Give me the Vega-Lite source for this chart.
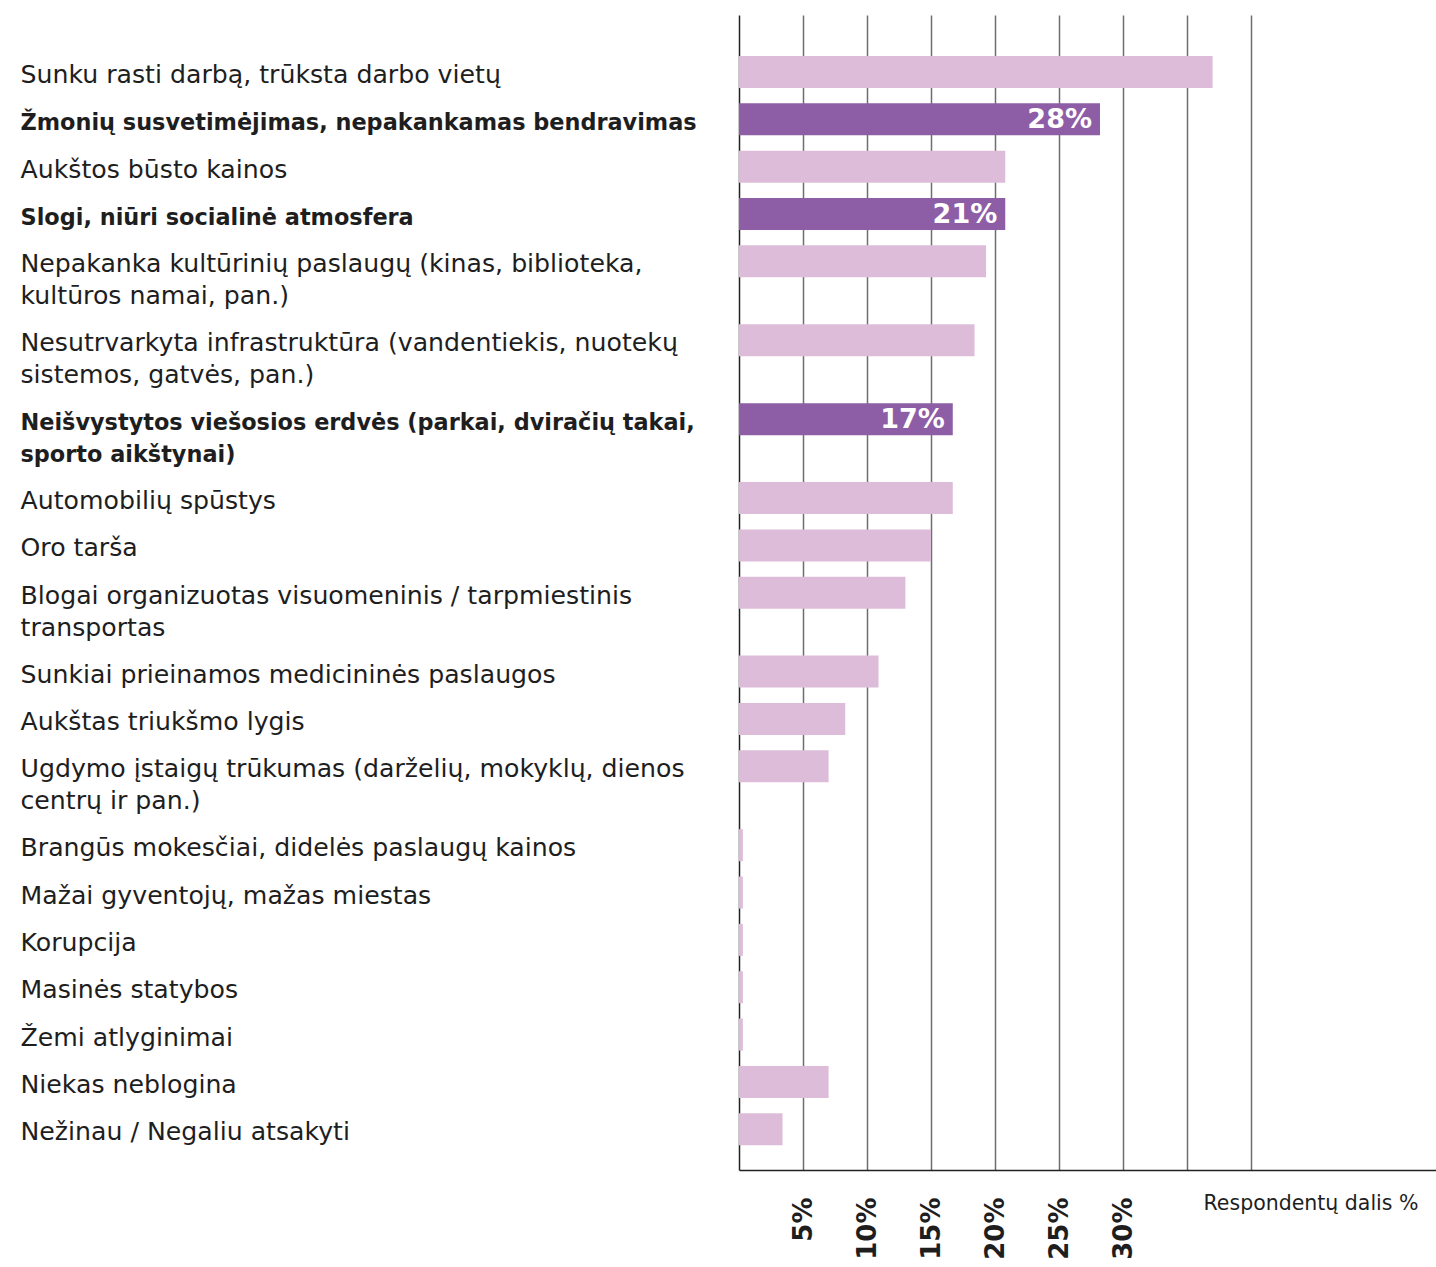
{
  "$schema": "https://vega.github.io/schema/vega-lite/v6.json",
  "autosize": "none",
  "padding": {"left": 739, "top": 15, "right": 0, "bottom": 97},
  "width": 697,
  "height": 1155,
  "background": "white",
  "config": {"view": {"stroke": null}},
  "data": {
    "values": [
      {"label": "Sunku rasti darbą, trūksta darbo vietų", "value": 37, "group": "normal"},
      {"label": "Žmonių susvetimėjimas, nepakankamas bendravimas", "value": 28.2, "group": "highlight"},
      {"label": "Aukštos būsto kainos", "value": 20.8, "group": "normal"},
      {"label": "Slogi, niūri socialinė atmosfera", "value": 20.8, "group": "highlight"},
      {"label": "Nepakanka kultūrinių paslaugų (kinas, biblioteka,\nkultūros namai, pan.)", "value": 19.3, "group": "normal"},
      {"label": "Nesutrvarkyta infrastruktūra (vandentiekis, nuotekų\nsistemos, gatvės, pan.)", "value": 18.4, "group": "normal"},
      {"label": "Neišvystytos viešosios erdvės (parkai, dviračių takai,\nsporto aikštynai)", "value": 16.7, "group": "highlight"},
      {"label": "Automobilių spūstys", "value": 16.7, "group": "normal"},
      {"label": "Oro tarša", "value": 15, "group": "normal"},
      {"label": "Blogai organizuotas visuomeninis / tarpmiestinis\ntransportas", "value": 13, "group": "normal"},
      {"label": "Sunkiai prieinamos medicininės paslaugos", "value": 10.9, "group": "normal"},
      {"label": "Aukštas triukšmo lygis", "value": 8.3, "group": "normal"},
      {"label": "Ugdymo įstaigų trūkumas (darželių, mokyklų, dienos\ncentrų ir pan.)", "value": 7, "group": "normal"},
      {"label": "Brangūs mokesčiai, didelės paslaugų kainos", "value": 0.3, "group": "normal"},
      {"label": "Mažai gyventojų, mažas miestas", "value": 0.3, "group": "normal"},
      {"label": "Korupcija", "value": 0.3, "group": "normal"},
      {"label": "Masinės statybos", "value": 0.3, "group": "normal"},
      {"label": "Žemi atlyginimai", "value": 0.3, "group": "normal"},
      {"label": "Niekas neblogina", "value": 7, "group": "normal"},
      {"label": "Nežinau / Negaliu atsakyti", "value": 3.4, "group": "normal"}
    ]
  },
  "encoding": {
    "y": {
      "field": "label",
      "type": "nominal",
      "sort": null,
      "scale": {
        "domain": [
          "_t01", "_t02", "_t03",
          "Sunku rasti darbą, trūksta darbo vietų", "_s01", "_s02",
          "Žmonių susvetimėjimas, nepakankamas bendravimas", "_s03", "_s04",
          "Aukštos būsto kainos", "_s05", "_s06",
          "Slogi, niūri socialinė atmosfera", "_s07", "_s08",
          "Nepakanka kultūrinių paslaugų (kinas, biblioteka,\nkultūros namai, pan.)", "_s09", "_s10", "_s11", "_s12",
          "Nesutrvarkyta infrastruktūra (vandentiekis, nuotekų\nsistemos, gatvės, pan.)", "_s13", "_s14", "_s15", "_s16",
          "Neišvystytos viešosios erdvės (parkai, dviračių takai,\nsporto aikštynai)", "_s17", "_s18", "_s19", "_s20",
          "Automobilių spūstys", "_s21", "_s22",
          "Oro tarša", "_s23", "_s24",
          "Blogai organizuotas visuomeninis / tarpmiestinis\ntransportas", "_s25", "_s26", "_s27", "_s28",
          "Sunkiai prieinamos medicininės paslaugos", "_s29", "_s30",
          "Aukštas triukšmo lygis", "_s31", "_s32",
          "Ugdymo įstaigų trūkumas (darželių, mokyklų, dienos\ncentrų ir pan.)", "_s33", "_s34", "_s35", "_s36",
          "Brangūs mokesčiai, didelės paslaugų kainos", "_s37", "_s38",
          "Mažai gyventojų, mažas miestas", "_s39", "_s40",
          "Korupcija", "_s41", "_s42",
          "Masinės statybos", "_s43", "_s44",
          "Žemi atlyginimai", "_s45", "_s46",
          "Niekas neblogina", "_s47", "_s48",
          "Nežinau / Negaliu atsakyti",
          "_b01", "_b02"
        ],
        "paddingInner": 0,
        "paddingOuter": 0.098,
        "align": 0.57
      },
      "axis": {
        "title": null,
        "ticks": false,
        "tickSize": 0,
        "domain": true,
        "domainColor": "#222222",
        "domainWidth": 1.5,
        "labelAlign": "left",
        "labelBaseline": "alphabetic",
        "labelOffset": 11,
        "labelPadding": 719,
        "labelLimit": 0,
        "labelOverlap": false,
        "labelFont": "DejaVu Sans",
        "labelColor": "#1e1e1e",
        "labelLineHeight": 32,
        "labelFontSize": {
          "condition": {"test": "indexof(datum.value, 'Žmonių') == 0 || indexof(datum.value, 'Slogi') == 0 || indexof(datum.value, 'Neišvystytos') == 0", "value": 22.4},
          "value": 25.2
        },
        "labelFontWeight": {
          "condition": {"test": "indexof(datum.value, 'Žmonių') == 0 || indexof(datum.value, 'Slogi') == 0 || indexof(datum.value, 'Neišvystytos') == 0", "value": "bold"},
          "value": "normal"
        },
        "labelExpr": "indexof(datum.label, '_') == 0 ? '' : split(datum.label, '\\n')"
      }
    }
  },
  "layer": [
    {
      "mark": {"type": "bar", "height": 32},
      "encoding": {
        "x": {
          "field": "value",
          "type": "quantitative",
          "scale": {"domain": [0, 54.45], "nice": false, "zero": true},
          "axis": {
            "values": [5, 10, 15, 20, 25, 30, 35, 40],
            "grid": true,
            "gridColor": "#6e6e6e",
            "gridWidth": 1.5,
            "ticks": false,
            "tickSize": 0,
            "domain": true,
            "domainColor": "#222222",
            "domainWidth": 1.5,
            "labelExpr": "datum.value <= 30 ? datum.value + '%' : ''",
            "labelAngle": -90,
            "labelAlign": "right",
            "labelBaseline": "middle",
            "labelPadding": 27,
            "labelFont": "DejaVu Sans",
            "labelFontWeight": "bold",
            "labelFontSize": 26,
            "labelColor": "#1e1e1e",
            "labelFlush": false,
            "labelOverlap": false,
            "title": "Respondentų dalis %",
            "titleFont": "DejaVu Sans",
            "titleFontSize": 20.5,
            "titleFontWeight": "normal",
            "titleColor": "#1e1e1e",
            "titleAnchor": "end",
            "titleAlign": "right",
            "titleBaseline": "alphabetic",
            "titleX": 679,
            "titleY": 39
          }
        },
        "color": {
          "field": "group",
          "type": "nominal",
          "scale": {"domain": ["normal", "highlight"], "range": ["#ddbcd9", "#8d5da6"]},
          "legend": null
        }
      }
    },
    {
      "transform": [
        {"filter": "datum.group == 'highlight'"},
        {"calculate": "format(datum.value, '.0f') + '%'", "as": "valueText"}
      ],
      "mark": {"type": "text", "align": "right", "baseline": "middle", "dx": -8, "dy": 1, "font": "DejaVu Sans", "fontWeight": "bold", "fontSize": 27, "color": "white"},
      "encoding": {
        "x": {"field": "value", "type": "quantitative"},
        "text": {"field": "valueText", "type": "nominal"}
      }
    }
  ]
}
